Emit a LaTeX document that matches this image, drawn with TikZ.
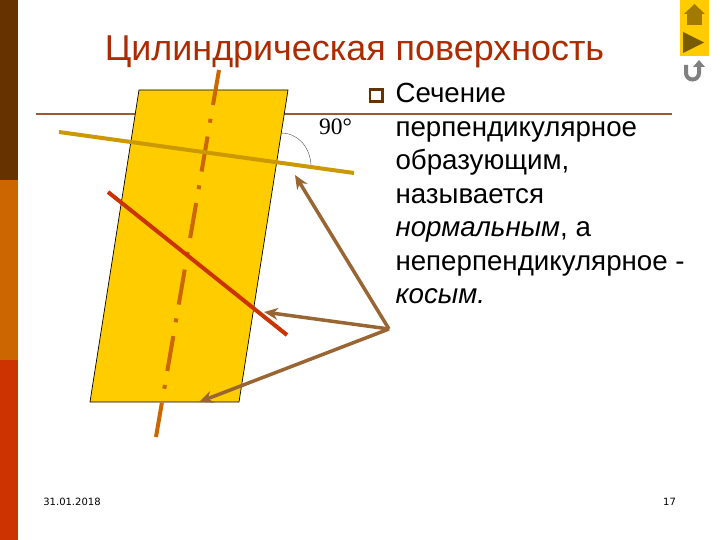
\documentclass[tikz,border=0pt]{standalone}
\usepackage{fontspec}
\setmainfont{Liberation Sans}
\newfontfamily\serifnum{Liberation Serif}
\newfontfamily\footfont{DejaVu Sans}
\usetikzlibrary{arrows.meta}
\definecolor{barbrown}{HTML}{663300}
\definecolor{barorange}{HTML}{CC6600}
\definecolor{barred}{HTML}{CC3300}
\definecolor{sheet}{HTML}{FFCC00}
\definecolor{ruleline}{HTML}{9C5A30}
\definecolor{arrowbrown}{HTML}{996633}
\definecolor{normalline}{HTML}{CC9900}
\tikzset{
  bodyline/.style={anchor=base west,font=\fontsize{27.7}{32}\selectfont},
  footer/.style={font=\footfont\fontsize{10}{12}\selectfont},
  pointer/.style={draw=arrowbrown,line width=3.5pt,-{Stealth[length=14pt,width=12pt]}}
}
\begin{document}
\begin{tikzpicture}[x=1pt,y=-1pt]
  \useasboundingbox (0,0) rectangle (720,540);
  \fill[barbrown] (0,0) rectangle (18,180);
  \fill[barorange] (0,180) rectangle (18,360);
  \fill[barred] (0,360) rectangle (18,540);
  \node[anchor=base,text=barred!85!black,font=\fontsize{35.9}{40}\selectfont] (title) at (354.5,61) {Цилиндрическая поверхность};
  \draw[ruleline,line width=2pt] (36,114) -- (672,114);
  % cylinder
  \draw[fill=sheet,line width=.7pt] (139,90) -- (288,90) -- (239,402) -- (90,402) -- cycle;
  \coordinate (axtop) at (219,70);
  \coordinate (axbot) at (156,437);
  \draw[barorange,line width=4pt,dash pattern=on 35.5pt off 14pt on 4pt off 14pt] (axtop) -- (axbot);
  \coordinate (nleft) at (59,132);
  \coordinate (nright) at (354,173);
  \draw[normalline,line width=4pt] (nleft) -- (nright);
  \coordinate (oleft) at (108,192);
  \coordinate (oright) at (287,335);
  \draw[barred,line width=4pt] (oleft) -- (oright);
  \draw[black!70,line width=.4pt] (281,133) .. controls (298,133) and (310,147) .. (311,165);
  \node[font=\serifnum\fontsize{23.5}{26}\selectfont] (angle) at (335.5,127) {90°};
  % arrows
  \coordinate (apex) at (389,329);
  \coordinate (tonormal) at (295,175);
  \coordinate (tooblique) at (264,312);
  \coordinate (tobase) at (199,402);
  \draw[pointer] (apex) -- (tonormal);
  \draw[pointer] (apex) -- (tooblique);
  \draw[pointer] (apex) -- (tobase);
  % text
  \draw[barbrown,line width=2.5pt] (370,89.5) rectangle (382.5,101.5);
  \node[bodyline] (l1) at (392,103) {Сечение};
  \node[bodyline] (l2) at (392,136.4) {перпендикулярное};
  \node[bodyline] (l3) at (392,169.8) {образующим,};
  \node[bodyline] (l4) at (392,203.2) {называется};
  \node[bodyline] (l5) at (392,236.6) {\itshape нормальным\upshape, а};
  \node[bodyline] (l6) at (392,270) {неперпендикулярное -};
  \node[bodyline] (l7) at (392,303.4) {\itshape косым.};
  % footer
  \node[footer] (date) at (72,502) {31.01.2018};
  \node[footer] (page) at (669.5,502) {17};
  % nav buttons
  \fill[sheet] (680,0) rectangle (709,56);
  \fill[normalline!80!black] (694.5,4) -- (705,14) -- (684,14) -- cycle;
  \fill[normalline!80!black] (687,14) rectangle (702,25);
  \fill[normalline!60!black] (683,32) -- (704,42.5) -- (683,53) -- cycle;
  \draw[gray,line width=4pt] (686,65) -- (686,73) arc[start angle=180,end angle=0,radius=6.5] -- (699,66);
  \fill[gray] (699,60) -- (705,67) -- (693,67) -- cycle;
\end{tikzpicture}
\end{document}
